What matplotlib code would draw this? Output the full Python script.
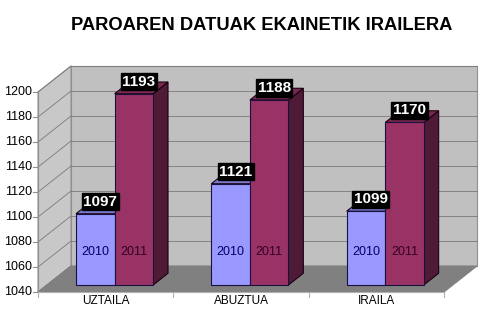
import matplotlib.pyplot as plt
import numpy as np
from matplotlib.patches import Polygon

# data
months = ['UZTAILA', 'ABUZTUA', 'IRAILA']
series = ['2010', '2011']
v2010 = [1097, 1121, 1099]
v2011 = [1193, 1188, 1170]
yticks = [1040, 1060, 1080, 1100, 1120, 1140, 1160, 1180, 1200]

#Figure Settings
plt.rcParams['font.family'] = ['Liberation Sans', 'DejaVu Sans']
fig = plt.figure(figsize=(4.82, 3.21), dpi=100)
ax = fig.add_axes([0, 0, 1, 1])
ax.set_xlim(-0.781, 2.781)
ax.set_ylim(1016.8, 1273.6)
ax.axis('off')

ymin, ymax = yticks[0], yticks[-1]
x0, x1 = -0.5, len(months) - 0.5
dx, dy = 0.2439, 20.8          # wall depth offset
f0, f1 = 0.27, 0.72            # bar depth range (fraction of depth)
bw = 0.285

wall = '#c0c0c0'
# back wall, side wall, floor
ax.add_patch(Polygon([(x0+dx, ymin+dy), (x1+dx, ymin+dy), (x1+dx, ymax+dy), (x0+dx, ymax+dy)],
                     closed=True, fc=wall, ec='#909090', lw=0.8, zorder=1))
ax.add_patch(Polygon([(x0, ymin), (x0+dx, ymin+dy), (x0+dx, ymax+dy), (x0, ymax)],
                     closed=True, fc='#c8c8c8', ec='#909090', lw=0.8, zorder=1))
for v in yticks:
    ax.plot([x0+dx, x1+dx], [v+dy, v+dy], color='#7a7a7a', lw=0.6, zorder=2)
    ax.plot([x0, x0+dx], [v, v+dy], color='#7a7a7a', lw=0.6, zorder=2)
ax.add_patch(Polygon([(x0, ymin), (x0+dx, ymin+dy), (x1+dx, ymin+dy), (x1, ymin)],
                     closed=True, fc='#808080', ec='#808080', lw=0.8, zorder=3))

# axes lines and ticks
ax.plot([x0, x0], [ymin, ymax], color='#909090', lw=0.8, zorder=4)
ax.plot([x0, x1], [ymin, ymin], color='#b0b0b0', lw=0.8, zorder=4)
for v in yticks:
    ax.plot([x0-0.035, x0], [v, v], color='#909090', lw=0.8, zorder=4)
    ax.text(x0-0.045, v, str(v), ha='right', va='center', fontsize=9, zorder=4)
for i in range(len(months)+1):
    ax.plot([x0+i, x0+i], [ymin, ymin-4], color='#b0b0b0', lw=0.8, zorder=4)
for i, m in enumerate(months):
    ax.text(i, ymin-7.5, m, ha='center', va='center', fontsize=8.5, zorder=4)

# bars
colors = [('#9999ff', '#6b6bb3', '#7a7acc', '#000066'), ('#993366', '#4f1a35', '#7a2850', '#330022')]
bx, by = dx*(f1-f0), dy*(f1-f0)
sx, sy = dx*f0, dy*f0
for i in range(len(months)):
    for j, vals in enumerate([v2010, v2011]):
        front, side, top, tc = colors[j]
        left = i - bw + j*bw + sx
        bot = ymin + sy
        h = vals[i] - ymin
        t = bot + h
        r = left + bw
        ax.add_patch(Polygon([(r, bot), (r+bx, bot+by), (r+bx, t+by), (r, t)],
                             closed=True, fc=side, ec='#1a0010', lw=0.8, zorder=5+2*j))
        ax.add_patch(Polygon([(left, t), (left+bx, t+by), (r+bx, t+by), (r, t)],
                             closed=True, fc=top, ec='#1a0010', lw=0.8, zorder=5+2*j))
        ax.bar(left, h, width=bw, bottom=bot, align='edge', color=front,
               edgecolor='#1a1040', lw=0.8, zorder=6+2*j)
        ax.text(left+bw/2, bot+26.5, series[j], ha='center', va='center',
                fontsize=9, color=tc, zorder=10)
        ax.text(left+bw/2+0.037, t+9.6, str(vals[i]), ha='center', va='center',
                fontsize=11, fontweight='bold', color='white', zorder=11,
                bbox=dict(boxstyle='square,pad=0.1', fc='black', ec='black'))

fig.text(0.543, 0.922, 'PAROAREN DATUAK EKAINETIK IRAILERA', ha='center', va='center',
         fontsize=13.2, fontweight='bold')

fig.savefig('out.png', dpi=100)
